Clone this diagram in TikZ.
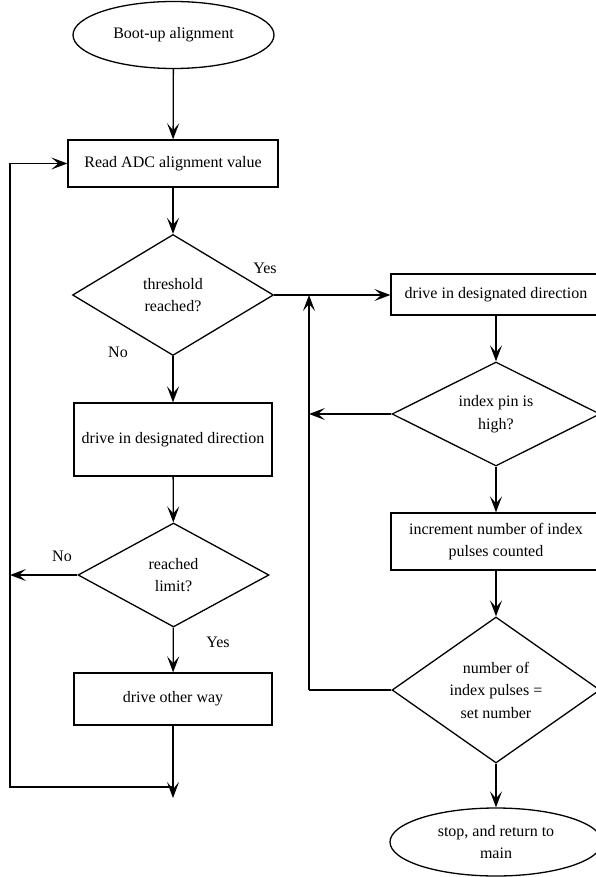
\documentclass[tikz,border=0pt]{standalone}
\usepackage{fontspec}
\setmainfont{Liberation Serif}
\usetikzlibrary{shapes.geometric,arrows.meta}
\begin{document}
\begin{tikzpicture}[x=1pt,y=-1pt,
  >={Stealth[length=16pt,width=12pt,inset=7pt]},
  every node/.style={font=\fontsize{16}{22.5}\selectfont},
  line/.style={line width=1.3pt},
  arr/.style={line width=1.3pt,->},
  procbox/.style={draw,line width=1.3pt,rectangle,inner sep=0pt,align=center},
  decide/.style={draw,line width=1.3pt,diamond,shape aspect=1.4,inner sep=0pt,align=center},
  term/.style={draw,line width=1.3pt,ellipse,inner sep=0pt,align=center},
  lbl/.style={inner sep=0pt}]
\useasboundingbox[fill=white] (0,0) rectangle (596,877);

% left column
\node[term,minimum width=201pt,minimum height=67pt] (start) at (173.5,35) {Boot-up alignment};
\node[procbox,minimum width=210pt,minimum height=47pt] (read) at (173,163.5) {Read ADC alignment value};
\node[decide,minimum width=201pt,minimum height=121pt] (d1) at (173,295) {threshold\\reached?};
\node[procbox,minimum width=198pt,minimum height=73pt] (ldrive) at (173,439.5) {drive in designated direction};
\node[decide,minimum width=191pt,minimum height=104pt] (d4) at (173.5,575) {reached\\limit?};
\node[procbox,minimum width=198pt,minimum height=52pt] (other) at (173,699) {drive other way};
\coordinate (endpt) at (173,798);
\coordinate (junc) at (173,787);
\coordinate (lbot) at (10,787);
\coordinate (ltop) at (10,163.5);
\coordinate (lmid) at (10,575);

% right column
\node[procbox,minimum width=210pt,minimum height=41pt] (rdrive) at (496,294.5) {drive in designated direction};
\node[decide,minimum width=208pt,minimum height=104pt] (d2) at (496,414) {index pin is\\high?};
\node[procbox,minimum width=210pt,minimum height=57pt] (incr) at (496,541.5) {increment number of index\\pulses counted};
\node[decide,minimum width=208pt,minimum height=146pt] (d3) at (496,690) {number of\\index pulses =\\set number};
\node[term,minimum width=212pt,minimum height=68pt] (stop) at (496,842) {stop, and return to\\main};
\coordinate (rbot) at (309,690);
\coordinate (rtop) at (309,295);

% labels
\node[lbl] (yes1) at (265,268) {Yes};
\node[lbl] (no1) at (118,352) {No};
\node[lbl] (no2) at (62,556) {No};
\node[lbl] (yes2) at (218,642) {Yes};

% connectors
\draw[arr] (start) -- (read);
\draw[arr] (read) -- (d1);
\draw[arr] (d1) -- (ldrive);
\draw[arr] (ldrive) -- (d4);
\draw[arr] (d4) -- (other);
\draw[arr] (other) -- (endpt);
\draw[line] (junc) -- (lbot) -- (ltop);
\draw[arr] (ltop) -- (read.west);
\draw[arr] (d4.west) -- (lmid);

\draw[arr] (d1.east) -- (d1.east -| rdrive.west);
\draw[arr] (rdrive) -- (d2);
\draw[arr] (d2) -- (incr);
\draw[arr] (incr) -- (d3);
\draw[arr] (d3) -- (stop);
\draw[arr] (d2.west) -- (d2.west -| rbot);
\draw[line] (d3.west) -- (rbot);
\draw[arr] (rbot) -- (rtop);
\end{tikzpicture}
\end{document}
